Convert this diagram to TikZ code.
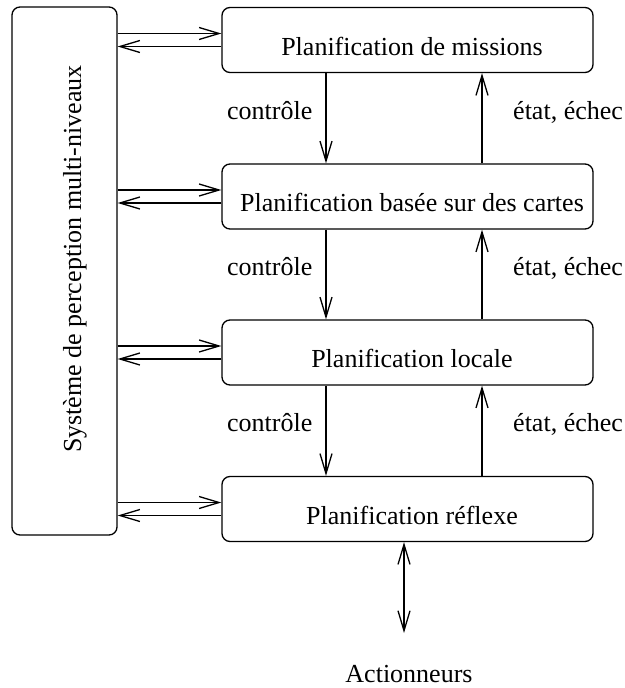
\documentclass[tikz,border=0pt]{standalone}
\usepackage{fontspec}
\setmainfont{Liberation Serif}
\usetikzlibrary{arrows.meta,calc}
\begin{document}
\begin{tikzpicture}[x=1pt,y=-1pt,
  txt/.style={font=\fontsize{26}{30}\selectfont, inner sep=0pt},
  box/.style={draw, rounded corners=8pt, line width=1.3pt,
    minimum width=371pt, minimum height=65pt, inner sep=0pt},
  link/.style={line width=1.3pt, -{Straight Barb[length=20pt,width=12pt]}},
  both/.style={line width=1.3pt,
    {Straight Barb[length=20pt,width=12pt]}-{Straight Barb[length=20pt,width=12pt]}}]
\useasboundingbox (0,0) rectangle (624,688);

% perception system (tall box on the left)
\node[box, minimum width=105pt, minimum height=528pt] (per) at (64.5,271) {};
\node[txt, rotate=90, anchor=base] (pertxt) at (81,259) {Système de perception multi-niveaux};

% planning layers
\node[box] (b1) at (407.5,40) {};
\node[box] (b2) at (407.5,196.5) {};
\node[box] (b3) at (407.5,352.5) {};
\node[box] (b4) at (407.5,509) {};
\node[txt, anchor=base] (t1) at (412,55) {Planification de missions};
\node[txt, anchor=base] (t2) at (412,211.5) {Planification basée sur des cartes};
\node[txt, anchor=base] (t3) at (412,367.5) {Planification locale};
\node[txt, anchor=base] (t4) at (412,524) {Planification réflexe};

% exchanges with the perception system
\foreach \b in {b1,b2,b3,b4}{
  \coordinate (hi) at ($(\b.west)+(0,-6.5)$);
  \coordinate (lo) at ($(\b.west)+(0,6.5)$);
  \draw[link] (per.east |- hi) -- (hi);
  \draw[link] (lo) -- (per.east |- lo);
}

% control flows down, status flows up
\coordinate (dn) at (326,0);
\coordinate (up) at (482,0);
\foreach \a/\b in {b1/b2,b2/b3,b3/b4}{
  \draw[link] (\a.south -| dn) -- (\b.north -| dn);
  \draw[link] (\b.north -| up) -- (\a.south -| up);
}
\node[txt, anchor=base west] (c1) at (227,119) {contrôle};
\node[txt, anchor=base west] (c2) at (227,275) {contrôle};
\node[txt, anchor=base west] (c3) at (227,431) {contrôle};
\node[txt, anchor=base west] (e1) at (513,119) {état, échec};
\node[txt, anchor=base west] (e2) at (513,275) {état, échec};
\node[txt, anchor=base west] (e3) at (513,431) {état, échec};

% actuators
\coordinate (act) at (404,633);
\draw[both] (b4.south -| act) -- (act);
\node[txt, anchor=base] (actn) at (409,682) {Actionneurs};
\end{tikzpicture}
\end{document}
